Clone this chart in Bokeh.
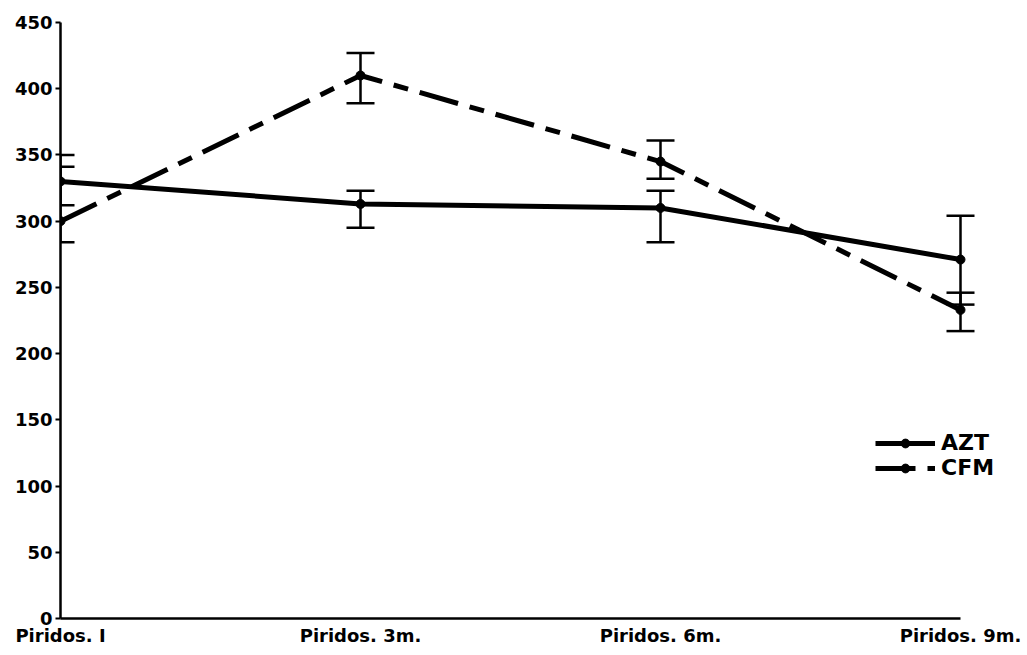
from bokeh.plotting import figure
from bokeh.models import ColumnDataSource, Whisker, TeeHead, FixedTicker, Legend, LegendItem, Range1d
from bokeh.embed import file_html
from bokeh.resources import INLINE

categories = ["Piridos. I", "Piridos. 3m.", "Piridos. 6m.", "Piridos. 9m."]
azt = [330, 313, 310, 271]
azt_upper = [350, 323, 323, 304]
azt_lower = [312, 295, 284, 237]
cfm = [300, 410, 345, 233]
cfm_upper = [341, 427, 361, 246]
cfm_lower = [284, 389, 332, 217]
y_ticks = [0, 50, 100, 150, 200, 250, 300, 350, 400, 450]

xpos = list(range(len(categories)))
src_azt = ColumnDataSource(dict(x=xpos, y=azt, up=azt_upper, lo=azt_lower))
src_cfm = ColumnDataSource(dict(x=xpos, y=cfm, up=cfm_upper, lo=cfm_lower))

p = figure(width=1024, height=650, output_backend="svg", toolbar_location=None,
           x_range=Range1d(0, 3.2), y_range=Range1d(0, 450),
           min_border_left=60, min_border_right=4, min_border_top=22, min_border_bottom=32)
p.outline_line_color = None
p.xgrid.grid_line_color = None
p.ygrid.grid_line_color = None

FONT = "DejaVu Sans"

for src in (src_azt, src_cfm):
    w = Whisker(base="x", upper="up", lower="lo", source=src, line_color="black", line_width=2.5,
                upper_head=TeeHead(size=28, line_color="black", line_width=2.5),
                lower_head=TeeHead(size=28, line_color="black", line_width=2.5))
    p.add_layout(w)

l1 = p.line("x", "y", source=src_azt, line_color="black", line_width=5)
m1 = p.scatter("x", "y", source=src_azt, size=9, color="black")
l2 = p.line("x", "y", source=src_cfm, line_color="black", line_width=5, line_dash="40 12 15 12")
m2 = p.scatter("x", "y", source=src_cfm, size=9, color="black")

p.xaxis.bounds = (0, len(categories) - 1)
p.xaxis.ticker = FixedTicker(ticks=xpos)
p.xaxis.major_label_overrides = {i: c for i, c in enumerate(categories)}
p.xaxis.major_tick_out = 0
p.xaxis.major_tick_in = 0
p.xaxis.minor_tick_line_color = None
p.xaxis.axis_line_width = 2.5
p.xaxis.axis_line_color = "black"
p.xaxis.major_label_standoff = 6
p.xaxis.major_label_text_font = FONT
p.xaxis.major_label_text_font_style = "bold"
p.xaxis.major_label_text_font_size = "18px"
p.xaxis.major_label_text_color = "black"

p.yaxis.ticker = FixedTicker(ticks=y_ticks)
p.yaxis.major_tick_out = 5
p.yaxis.major_tick_in = 0
p.yaxis.major_tick_line_width = 2
p.yaxis.major_tick_line_color = "black"
p.yaxis.minor_tick_line_color = None
p.yaxis.axis_line_width = 2.5
p.yaxis.axis_line_color = "black"
p.yaxis.major_label_standoff = 3
p.yaxis.major_label_text_font = FONT
p.yaxis.major_label_text_font_style = "bold"
p.yaxis.major_label_text_font_size = "18px"
p.yaxis.major_label_text_color = "black"

legend = Legend(items=[LegendItem(label="AZT", renderers=[l1, m1]),
                       LegendItem(label="CFM", renderers=[l2, m2])],
                location=(815, 138), padding=0, margin=0, spacing=0,
                glyph_width=60, glyph_height=22, label_standoff=6,
                border_line_color=None, background_fill_alpha=0,
                label_text_font=FONT, label_text_font_style="bold",
                label_text_font_size="22px", label_text_color="black", label_height=22)
p.add_layout(legend)

open("out.html", "w").write(file_html(p, INLINE))
